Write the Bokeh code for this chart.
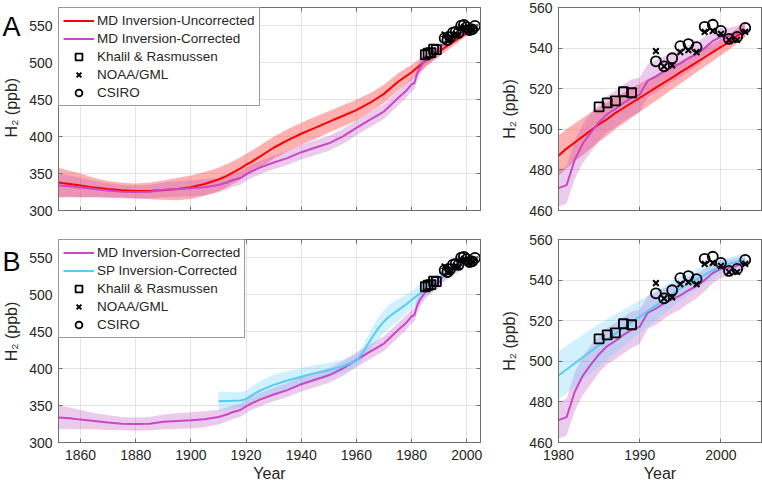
from math import pi
from bokeh.plotting import figure
from bokeh.layouts import column, row
from bokeh.models import (Range1d, LinearAxis, CustomJSTickFormatter,
                          FixedTicker, ColumnDataSource, Legend, LegendItem)
from bokeh.core.properties import value
from bokeh.embed import file_html
from bokeh.resources import INLINE

# ---------------- data ----------------
md_years = [1852, 1856, 1860, 1865, 1870, 1875, 1880, 1885, 1887, 1890, 1895, 1900,
            1905, 1910, 1913, 1915, 1918, 1920, 1922, 1925, 1930, 1935, 1940, 1945,
            1950, 1955, 1960, 1965, 1970, 1975, 1978,
            1980, 1981, 1982, 1983, 1984, 1985, 1986, 1987, 1988, 1989, 1990, 1991,
            1992, 1993, 1994, 1995, 1996, 1997, 1998, 1999, 2000, 2001, 2002, 2003]
md_uncorrected = [338, 336, 334, 331, 329, 327.5, 326.5, 326.5, 327, 327.5, 329, 331.5,
                  336, 342, 347, 351, 357, 362, 366, 373, 385, 395, 404, 412,
                  420, 428, 436, 446, 458, 474, 482,
                  487, 490.5, 493.5, 496.5, 499.5, 502.5, 505, 508, 510.5, 513, 515.5, 518,
                  520.5, 523, 525.5, 528, 530.5, 533, 535.5, 538, 540.5, 543, 546, 549]
md_uncorrected_unc = [20, 18, 16, 13, 11, 10, 10, 11, 12, 13, 15, 16,
                      16, 16, 16, 15.5, 15, 15, 15, 15, 15, 15, 15, 15,
                      14.5, 14.5, 14, 13, 12.5, 11.5, 11,
                      10, 9.7, 9.4, 9.1, 8.8, 8.5, 8.2, 7.9, 7.6, 7.3, 7, 6.7,
                      6.4, 6.1, 5.8, 5.5, 5.2, 4.9, 4.6, 4.3, 4, 3.8, 3.6, 3.4]
md_corrected = [334, 333, 331, 329, 327, 325.5, 325, 325.5, 326.5, 328, 329, 330,
                331.5, 334.5, 338, 341, 344, 349, 353, 358, 365, 371, 379, 385,
                391, 400, 412, 423, 434, 452, 462,
                471, 472.5, 485, 493, 498.5, 503.5, 507.5, 510, 513, 515.5, 517, 524,
                526, 528.5, 530.5, 532.5, 535, 537, 540, 543.5, 545.5, 546, 547, 549]
md_corrected_unc = [16, 14.5, 13, 11, 10, 9, 9, 9, 9.5, 10, 10.5, 11,
                    11, 10, 9.5, 9, 9, 9, 9, 9, 9, 9.5, 10, 10,
                    10, 10, 10, 10, 10, 10, 10,
                    9, 9, 9.5, 9.5, 9.5, 9, 9, 9, 9, 9, 8.5, 8,
                    8, 7.5, 7, 7, 6.5, 6, 5.5, 5, 4.5, 4, 4, 3.5]

sp_years = [1910, 1915, 1918, 1920, 1923, 1926, 1930, 1935, 1940, 1945, 1950, 1955,
            1960, 1962, 1964, 1966, 1968, 1970, 1972, 1975, 1978, 1980, 1985, 1990,
            1995, 2000, 2003]
sp_corrected = [356, 356.5, 357, 359, 366, 372, 378, 384, 389, 394, 398, 403,
                411, 420, 432, 444, 455, 464, 471, 479, 487, 493, 508, 522,
                536, 547, 550]
sp_corrected_unc = [13, 12, 11, 11, 12, 13, 14, 13, 12, 11, 10, 9,
                    8, 9, 11, 13, 15, 16, 16, 15, 13, 12, 10.5, 8,
                    6, 3.5, 3]

kr_years = [1985, 1986, 1987, 1988, 1989]
kr_vals = [511, 513, 514, 518.5, 518]
noaa_years = [1992, 1993, 1994, 1995, 1996, 1997, 1998, 1999, 2000, 2001, 2002, 2003]
noaa_vals = [538.5, 531, 531.5, 538, 539, 538, 548, 548.5, 547, 544, 544, 548]
csiro_years = [1992, 1993, 1994, 1995, 1996, 1997, 1998, 1999, 2000, 2001, 2002, 2003]
csiro_vals = [533.5, 531, 535, 541, 542, 540.5, 550.5, 551.5, 548.5, 544.5, 545.5, 550]

left_xticks = [1860, 1880, 1900, 1920, 1940, 1960, 1980, 2000]
left_yticks = [300, 350, 400, 450, 500, 550]
right_xticks = [1980, 1990, 2000]
right_yticks = [460, 480, 500, 520, 540, 560]

YLABEL = "H\u2082 (ppb)"

# ---------------- styles ----------------
FONT = "Liberation Sans"
TXT = "#262626"
AX = "#6e6e6e"
RED = "#ff0000"
MAG = "#c848c8"
SKY = "#55ccf5"

src_md = ColumnDataSource(dict(
    x=md_years, unc=md_uncorrected, cor=md_corrected,
    ulo=[v - e for v, e in zip(md_uncorrected, md_uncorrected_unc)],
    uhi=[v + e for v, e in zip(md_uncorrected, md_uncorrected_unc)],
    clo=[v - e for v, e in zip(md_corrected, md_corrected_unc)],
    chi=[v + e for v, e in zip(md_corrected, md_corrected_unc)]))
src_sp = ColumnDataSource(dict(
    x=sp_years, y=sp_corrected,
    lo=[v - e for v, e in zip(sp_corrected, sp_corrected_unc)],
    hi=[v + e for v, e in zip(sp_corrected, sp_corrected_unc)]))
src_kr = ColumnDataSource(dict(x=kr_years, y=kr_vals))
src_noaa = ColumnDataSource(dict(x=noaa_years, y=noaa_vals))
src_csiro = ColumnDataSource(dict(x=csiro_years, y=csiro_vals))

blank = CustomJSTickFormatter(code="return ''")


def make_fig(xr, yr, w, h, bl, br, bt, bb, xt, yt, xlabels, ylabel):
    p = figure(width=w, height=h, x_range=Range1d(*xr), y_range=Range1d(*yr),
               output_backend="svg", toolbar_location=None,
               min_border_left=bl, min_border_right=br,
               min_border_top=bt, min_border_bottom=bb)
    p.background_fill_color = "white"
    p.border_fill_color = "white"
    p.outline_line_color = AX
    p.outline_line_width = 1
    for ax in (p.xaxis[0], p.yaxis[0]):
        ax.axis_line_color = AX
        ax.major_tick_line_color = AX
        ax.major_tick_in = 4
        ax.major_tick_out = 0
        ax.minor_tick_line_color = None
        ax.major_label_text_font = FONT
        ax.major_label_text_font_size = "14px"
        ax.major_label_text_color = TXT
        ax.axis_label_text_font = FONT
        ax.axis_label_text_font_size = "16px"
        ax.axis_label_text_font_style = "normal"
        ax.axis_label_text_color = TXT
    p.yaxis.major_label_standoff = 6
    p.yaxis.axis_label_standoff = 8
    p.xaxis.ticker = FixedTicker(ticks=xt)
    p.yaxis.ticker = FixedTicker(ticks=yt)
    if ylabel:
        p.yaxis.axis_label = YLABEL
    if xlabels:
        p.xaxis.axis_label = "Year"
        p.xaxis.major_label_standoff = 7
        p.xaxis.axis_label_standoff = 2
    else:
        p.xaxis.formatter = blank
        p.xaxis.major_label_standoff = 0
    # box ticks on top / right
    for side, ticks in (("right", yt), ("above", xt)):
        a = LinearAxis(ticker=FixedTicker(ticks=ticks), formatter=blank,
                       axis_line_color=AX, major_tick_line_color=AX,
                       major_tick_in=4, major_tick_out=0,
                       minor_tick_line_color=None, major_label_standoff=0)
        p.add_layout(a, side)
    p.grid.grid_line_color = "#e3e3e3"
    p.grid.grid_line_width = 1
    p.xgrid.ticker = FixedTicker(ticks=xt)
    p.ygrid.ticker = FixedTicker(ticks=yt)
    return p


def side_strip(h, letter, letter_base, mid_from_top):
    # narrow strip left of a wide panel holding the panel letter and y-axis title
    s = figure(width=22, height=h, x_range=Range1d(0, 22), y_range=Range1d(0, h),
               output_backend="svg", toolbar_location=None, min_border=0,
               min_border_left=0, min_border_right=0,
               min_border_top=0, min_border_bottom=0,
               x_axis_location=None, y_axis_location=None)
    s.outline_line_color = None
    s.grid.visible = False
    s.background_fill_color = "white"
    s.border_fill_color = "white"
    s.text(x=[2], y=[h - letter_base], text=[letter], text_font=value(FONT),
           text_font_size="27px", text_color="black", text_baseline="alphabetic",
           text_align="left")
    s.text(x=[11], y=[h - mid_from_top], text=[YLABEL], text_font=value(FONT),
           text_font_size="16px", text_color=TXT, angle=pi / 2,
           text_baseline="middle", text_align="center")
    return s


def add_obs(p):
    r1 = p.scatter("x", "y", source=src_kr, marker="square", size=9,
                   fill_color=None, line_color="black", line_width=1.8)
    r2 = p.scatter("x", "y", source=src_noaa, marker="x", size=8,
                   line_color="black", line_width=2)
    r3 = p.scatter("x", "y", source=src_csiro, marker="circle", size=10,
                   fill_color=None, line_color="black", line_width=1.8)
    return [("Khalil & Rasmussen", r1), ("NOAA/GML", r2), ("CSIRO", r3)]


def style_legend(p, items):
    leg = Legend(items=[LegendItem(label=l, renderers=[r]) for l, r in items],
                 location="top_left", margin=0, padding=4, spacing=1,
                 glyph_width=31, glyph_height=17, label_height=17,
                 label_standoff=3, label_text_font=FONT,
                 label_text_font_size="13.5px", label_text_color=TXT,
                 border_line_color="#333333", border_line_width=1,
                 background_fill_color="white", background_fill_alpha=1)
    p.add_layout(leg, "center")


LX = (1852, 2005)
LY = (300, 575)
RX = (1980, 2005)
RY = (460, 560)

# ---------- top-left ----------
s1 = side_strip(220, "A", 21, 108.5)
p1 = make_fig(LX, LY, 474, 220, 36, 16, 7, 10, left_xticks, left_yticks, False, False)
p1.varea("x", "ulo", "uhi", source=src_md, fill_color="#ff5050", fill_alpha=0.45)
p1.varea("x", "clo", "chi", source=src_md, fill_color="#c050c0", fill_alpha=0.3)
l_unc = p1.line("x", "unc", source=src_md, line_color=RED, line_width=2)
l_cor = p1.line("x", "cor", source=src_md, line_color=MAG, line_width=2)
obs = add_obs(p1)
style_legend(p1, [("MD Inversion-Uncorrected", l_unc),
                  ("MD Inversion-Corrected", l_cor)] + obs)

# ---------- top-right ----------
p2 = make_fig(RX, RY, 266, 220, 62, 1, 7, 10, right_xticks, right_yticks, False, True)
p2.varea("x", "ulo", "uhi", source=src_md, fill_color="#ff5050", fill_alpha=0.45)
p2.varea("x", "clo", "chi", source=src_md, fill_color="#c050c0", fill_alpha=0.3)
p2.line("x", "unc", source=src_md, line_color=RED, line_width=2)
p2.line("x", "cor", source=src_md, line_color=MAG, line_width=2)
add_obs(p2)

# ---------- bottom-left ----------
s3 = side_strip(266, "B", 29, 120.5)
p3 = make_fig(LX, LY, 474, 266, 36, 16, 19, 44, left_xticks, left_yticks, True, False)
p3.varea("x", "clo", "chi", source=src_md, fill_color="#c050c0", fill_alpha=0.3)
p3.varea("x", "lo", "hi", source=src_sp, fill_color="#66d0ff", fill_alpha=0.3)
l_cor3 = p3.line("x", "cor", source=src_md, line_color=MAG, line_width=2)
l_sp = p3.line("x", "y", source=src_sp, line_color=SKY, line_width=2)
obs3 = add_obs(p3)
style_legend(p3, [("MD Inversion-Corrected", l_cor3),
                  ("SP Inversion-Corrected", l_sp)] + obs3)

# ---------- bottom-right ----------
p4 = make_fig(RX, RY, 266, 266, 62, 1, 19, 44, right_xticks, right_yticks, True, True)
p4.varea("x", "clo", "chi", source=src_md, fill_color="#c050c0", fill_alpha=0.3)
p4.varea("x", "lo", "hi", source=src_sp, fill_color="#66d0ff", fill_alpha=0.3)
p4.line("x", "cor", source=src_md, line_color=MAG, line_width=2)
p4.line("x", "y", source=src_sp, line_color=SKY, line_width=2)
add_obs(p4)

p = column(row(s1, p1, p2, spacing=0), row(s3, p3, p4, spacing=0), spacing=0)
open("out.html", "w").write(file_html(p, INLINE))
